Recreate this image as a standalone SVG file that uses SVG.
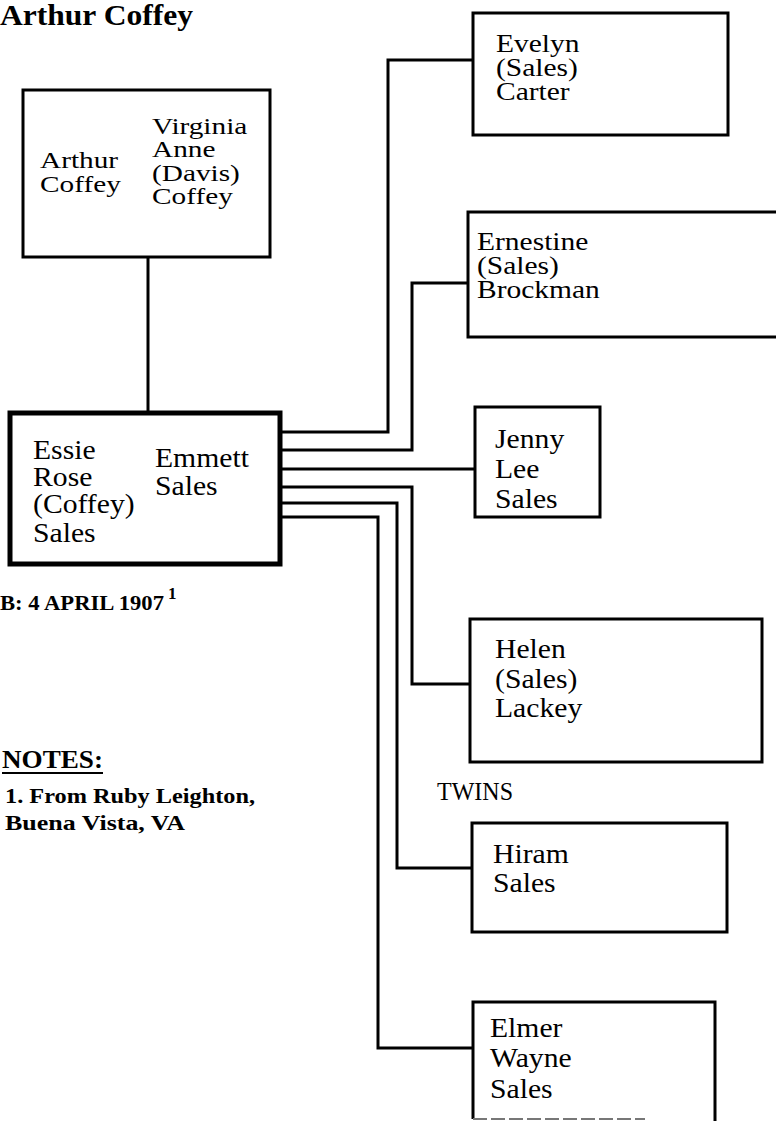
<svg xmlns="http://www.w3.org/2000/svg" width="776" height="1121" viewBox="0 0 776 1121">
  <style>
    .box { fill: none; stroke: #000; stroke-width: 3; }
    .thick { stroke-width: 5; }
    .t { font-family: "Liberation Serif", "Times New Roman", serif; font-size: 25px; fill: #000; }
    .tp { font-size: 24px; }
    .tl { font-size: 28px; }
    .b { font-family: "Liberation Serif", "Times New Roman", serif; font-weight: bold; fill: #000; }
    .conn { fill: none; stroke: #000; stroke-width: 3; }
  </style>
  <rect width="776" height="1121" fill="#fff"/>

  <text class="b" x="0" y="25" font-size="30" textLength="193" lengthAdjust="spacingAndGlyphs">Arthur Coffey</text>

  <g id="connectors">
    <path class="conn" d="M148,257 V413" stroke-width="3.5"/>
    <path class="conn" d="M280,432 H388 V60 H473"/>
    <path class="conn" d="M280,450 H412 V283 H468"/>
    <path class="conn" d="M280,469 H475"/>
    <path class="conn" d="M280,487 H412 V684 H470"/>
    <path class="conn" d="M280,503 H397 V868 H472"/>
    <path class="conn" d="M280,517 H378 V1048 H473"/>
  </g>

  <g id="parents">
    <rect class="box" x="23" y="90" width="247" height="167"/>
    <text class="t tp" transform="translate(40,0) scale(1.22,1)"><tspan x="0" y="168">Arthur</tspan><tspan x="0" y="192">Coffey</tspan></text>
    <text class="t tp" transform="translate(152,0) scale(1.22,1)"><tspan x="0" y="134">Virginia</tspan><tspan x="0" y="157">Anne</tspan><tspan x="0" y="181">(Davis)</tspan><tspan x="0" y="204">Coffey</tspan></text>
  </g>

  <g id="couple">
    <rect class="box thick" x="10" y="413" width="270" height="151"/>
    <text class="t tl" transform="translate(33,0) scale(1.06,1)"><tspan x="0" y="459">Essie</tspan><tspan x="0" y="486">Rose</tspan><tspan x="0" y="513">(Coffey)</tspan><tspan x="0" y="542">Sales</tspan></text>
    <text class="t tl" transform="translate(155,0) scale(1.06,1)"><tspan x="0" y="467">Emmett</tspan><tspan x="0" y="495">Sales</tspan></text>
  </g>

  <g id="birth">
    <text class="b" x="0" y="610" font-size="22" textLength="164" lengthAdjust="spacingAndGlyphs">B: 4 APRIL 1907</text>
    <text class="b" x="168" y="599" font-size="17">1</text>
  </g>

  <g id="notes">
    <text class="b" x="2" y="768" font-size="26" textLength="101" lengthAdjust="spacingAndGlyphs">NOTES:</text>
    <line x1="2" y1="773" x2="103" y2="773" stroke="#000" stroke-width="2"/>
    <text class="b" x="5" y="803" font-size="22" textLength="250" lengthAdjust="spacingAndGlyphs">1. From Ruby Leighton,</text>
    <text class="b" x="5" y="830" font-size="22" textLength="180" lengthAdjust="spacingAndGlyphs">Buena Vista, VA</text>
  </g>

  <g id="evelyn">
    <rect class="box" x="473" y="13" width="255" height="122"/>
    <text class="t" transform="translate(496,0) scale(1.18,1)"><tspan x="0" y="52">Evelyn</tspan><tspan x="0" y="76">(Sales)</tspan><tspan x="0" y="100">Carter</tspan></text>
  </g>

  <g id="ernestine">
    <rect class="box" x="468" y="212" width="340" height="125"/>
    <text class="t" transform="translate(477,0) scale(1.18,1)"><tspan x="0" y="250">Ernestine</tspan><tspan x="0" y="274">(Sales)</tspan><tspan x="0" y="298">Brockman</tspan></text>
  </g>

  <g id="jenny">
    <rect class="box" x="475" y="407" width="125" height="110"/>
    <text class="t tl" transform="translate(495,0) scale(1.06,1)"><tspan x="0" y="448">Jenny</tspan><tspan x="0" y="478">Lee</tspan><tspan x="0" y="508">Sales</tspan></text>
  </g>

  <g id="helen">
    <rect class="box" x="470" y="619" width="292" height="143"/>
    <text class="t tl" transform="translate(495,0) scale(1.06,1)"><tspan x="0" y="658">Helen</tspan><tspan x="0" y="688">(Sales)</tspan><tspan x="0" y="717">Lackey</tspan></text>
  </g>

  <g id="twins">
    <text class="t" x="437" y="800" font-size="22" textLength="76" lengthAdjust="spacingAndGlyphs">TWINS</text>
  </g>

  <g id="hiram">
    <rect class="box" x="472" y="823" width="255" height="109"/>
    <text class="t tl" transform="translate(493,0) scale(1.06,1)"><tspan x="0" y="863">Hiram</tspan><tspan x="0" y="892">Sales</tspan></text>
  </g>

  <g id="elmer">
    <path class="box" d="M473,1119 V1002 H715 V1121"/>
    <line x1="473" y1="1119" x2="645" y2="1119" stroke="#777" stroke-width="2" stroke-dasharray="14,4"/>
    <text class="t tl" transform="translate(490,0) scale(1.06,1)"><tspan x="0" y="1037">Elmer</tspan><tspan x="0" y="1067">Wayne</tspan><tspan x="0" y="1098">Sales</tspan></text>
  </g>
</svg>
